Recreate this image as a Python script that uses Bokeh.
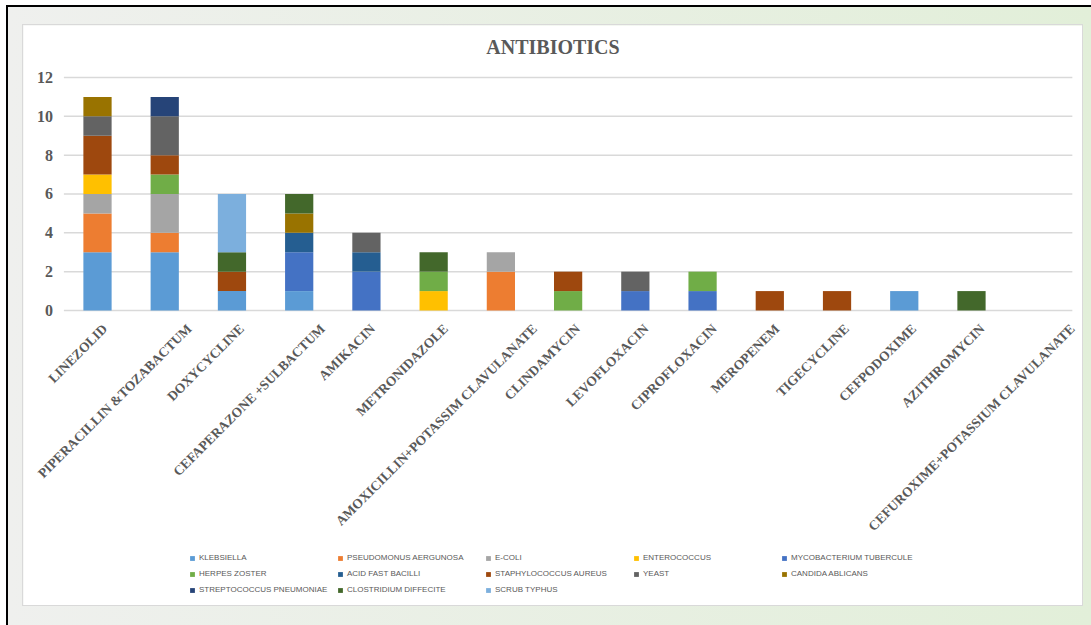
from math import pi

from bokeh.core.properties import value
from bokeh.embed import file_html
from bokeh.layouts import column
from bokeh.models import ColumnDataSource, Legend, LegendItem, Range1d
from bokeh.plotting import figure
from bokeh.resources import INLINE

# Antibiotics (x categories) and organism counts per antibiotic
antibiotics = [
    "LINEZOLID",
    "PIPERACILLIN &TOZABACTUM",
    "DOXYCYCLINE",
    "CEFAPERAZONE +SULBACTUM",
    "AMIKACIN",
    "METRONIDAZOLE",
    "AMOXICILLIN+POTASSIM CLAVULANATE",
    "CLINDAMYCIN",
    "LEVOFLOXACIN",
    "CIPROFLOXACIN",
    "MEROPENEM",
    "TIGECYCLINE",
    "CEFPODOXIME",
    "AZITHROMYCIN",
    "CEFUROXIME+POTASSIUM CLAVULANATE",
]

organisms = [
    "KLEBSIELLA",
    "PSEUDOMONUS AERGUNOSA",
    "E-COLI",
    "ENTEROCOCCUS",
    "MYCOBACTERIUM TUBERCULE",
    "HERPES ZOSTER",
    "ACID FAST BACILLI",
    "STAPHYLOCOCCUS AUREUS",
    "YEAST",
    "CANDIDA ABLICANS",
    "STREPTOCOCCUS PNEUMONIAE",
    "CLOSTRIDIUM DIFFECITE",
    "SCRUB TYPHUS",
]

klebsiella = [3, 3, 1, 1, 0, 0, 0, 0, 0, 0, 0, 0, 1, 0, 0]
pseudomonas = [2, 1, 0, 0, 0, 0, 2, 0, 0, 0, 0, 0, 0, 0, 0]
e_coli = [1, 2, 0, 0, 0, 0, 1, 0, 0, 0, 0, 0, 0, 0, 0]
enterococcus = [1, 0, 0, 0, 0, 1, 0, 0, 0, 0, 0, 0, 0, 0, 0]
mycobacterium = [0, 0, 0, 2, 2, 0, 0, 0, 1, 1, 0, 0, 0, 0, 0]
herpes_zoster = [0, 1, 0, 0, 0, 1, 0, 1, 0, 1, 0, 0, 0, 0, 0]
acid_fast_bacilli = [0, 0, 0, 1, 1, 0, 0, 0, 0, 0, 0, 0, 0, 0, 0]
staphylococcus = [2, 1, 1, 0, 0, 0, 0, 1, 0, 0, 1, 1, 0, 0, 0]
yeast = [1, 2, 0, 0, 1, 0, 0, 0, 1, 0, 0, 0, 0, 0, 0]
candida = [1, 0, 0, 1, 0, 0, 0, 0, 0, 0, 0, 0, 0, 0, 0]
streptococcus = [0, 1, 0, 0, 0, 0, 0, 0, 0, 0, 0, 0, 0, 0, 0]
clostridium = [0, 0, 1, 1, 0, 1, 0, 0, 0, 0, 0, 0, 0, 1, 0]
scrub_typhus = [0, 0, 3, 0, 0, 0, 0, 0, 0, 0, 0, 0, 0, 0, 0]

y_ticks = [0, 2, 4, 6, 8, 10, 12]

series = [
    klebsiella, pseudomonas, e_coli, enterococcus, mycobacterium,
    herpes_zoster, acid_fast_bacilli, staphylococcus, yeast, candida,
    streptococcus, clostridium, scrub_typhus,
]

colors = [
    "#5B9BD5", "#ED7D31", "#A5A5A5", "#FFC000", "#4472C4",
    "#70AD47", "#255E91", "#9E480E", "#636363", "#997300",
    "#264478", "#43682B", "#7CAFDD",
]

TEXT = "#595959"
GRID = "#D9D9D9"

# Chart geometry (pixels within the white chart panel)
W, H = 1059, 580
CAT_PX = 67.23       # width of one category band
FIRST_CAT_PX = 74    # centre of the first band from the panel's left edge
ZERO_PX = 285        # value 0 from the panel's top edge
UNIT_PX = 19.42      # one count on the value scale

n = len(antibiotics)
positions = list(range(n))

x0 = -FIRST_CAT_PX / CAT_PX
x1 = x0 + W / CAT_PX
y1 = ZERO_PX / UNIT_PX
y0 = y1 - H / UNIT_PX

data = {"pos": positions, "antibiotic": antibiotics}
keys = []
for i, vals in enumerate(series):
    key = f"s{i}"
    data[key] = vals
    keys.append(key)

# The frame fills the whole panel; title, value labels, category labels
# and legend are all drawn inside it.
p = figure(
    x_range=Range1d(x0, x1),
    y_range=Range1d(y0, y1),
    width=W,
    height=H,
    output_backend="svg",
    toolbar_location=None,
    x_axis_location=None,
    y_axis_location=None,
    min_border=0,
    outline_line_color=None,
    background_fill_color="white",
    border_fill_color="white",
)
p.grid.grid_line_color = None

# Horizontal gridlines across the category bands
p.segment(
    x0=-0.5, x1=n - 0.5, y0=y_ticks, y1=y_ticks,
    line_color=GRID, line_width=1.5,
)

renderers = p.vbar_stack(
    keys, x="pos", width=0.42, source=data,
    color=colors, line_color=None,
)

# Value labels left of the grid
p.text(
    x=-0.5, y=y_ticks, text=[str(t) for t in y_ticks],
    x_offset=-11, text_align="right", text_baseline="middle",
    text_font=value("Liberation Serif"), text_font_style="bold",
    text_font_size="16px", text_color=TEXT,
)

# Category names, slanted, ending just under each bar
label_src = ColumnDataSource(dict(
    x=positions,
    y=[0] * n,
    text=antibiotics,
    dx=[1.15 * len(a) - 3 for a in antibiotics],
))
p.text(
    x="x", y="y", text="text", source=label_src,
    angle=pi / 4, x_offset="dx", y_offset=16,
    text_align="right", text_baseline="middle",
    text_font=value("Liberation Serif"), text_font_style="bold",
    text_font_size="13.5px", text_color=TEXT,
)

# Title, centred over the panel
p.text(
    x=(x0 + x1) / 2, y=y1, text=["ANTIBIOTICS"],
    y_offset=21, text_align="center", text_baseline="middle",
    text_font=value("Liberation Serif"), text_font_style="bold",
    text_font_size="20px", text_color=TEXT,
)

# Legend along the bottom, five equal columns filled row by row
items = [LegendItem(label=name, renderers=[r]) for name, r in zip(organisms, renderers)]
legend = Legend(
    items=items,
    orientation="horizontal",
    ncols=5,
    location=(166, 10),
    glyph_width=6,
    glyph_height=6,
    label_width=133,
    label_height=11,
    label_standoff=4,
    spacing=5,
    padding=4,
    margin=0,
    border_line_color=None,
    background_fill_alpha=0,
    label_text_font="Liberation Sans",
    label_text_font_size="8px",
    label_text_color=TEXT,
)
p.add_layout(legend, "center")

p.margin = (18, 0, 0, 15)
p.styles = {"outline": "1px solid #D9D9D9"}

page = column(
    p,
    width=1085,
    height=620,
    margin=(5, 0, 0, 6),
    styles={
        "background": "linear-gradient(90deg, #EFF0EE 0%, #E2EFD9 100%)",
        "border-top": "2px solid #000000",
        "border-left": "2px solid #000000",
        "box-sizing": "border-box",
    },
)

open("out.html", "w").write(file_html(page, INLINE))
